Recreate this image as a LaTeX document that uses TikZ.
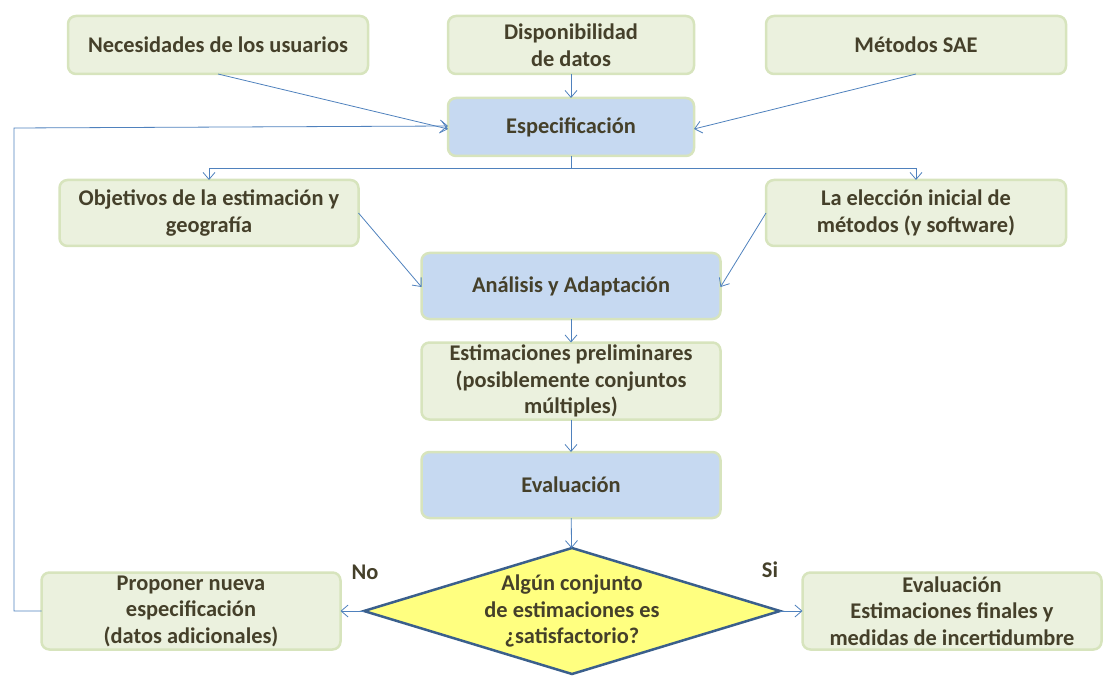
\documentclass[tikz,border=0pt]{standalone}
\usepackage{fontspec}
\setmainfont{Carlito}
\usetikzlibrary{arrows.meta,shapes.geometric}
\definecolor{txt}{HTML}{45402A}
\definecolor{gfill}{HTML}{EBF1DE}
\definecolor{gline}{HTML}{D7E4BD}
\definecolor{bfill}{HTML}{C6D9F1}
\definecolor{conn}{HTML}{4F81BD}
\definecolor{yfill}{HTML}{FFFF80}
\definecolor{dline}{HTML}{3A5F8C}
\tikzset{
  box/.style={draw=gline, line width=2.5pt, fill=gfill, rounded corners=8pt,
    text=txt, font=\fontsize{22.4}{26.5}\selectfont\bfseries, align=center,
    inner sep=0pt, outer sep=0pt},
  bbox/.style={box, fill=bfill},
  conn/.style={draw=conn, line width=0.8pt, -{Straight Barb[length=7pt,width=12pt,line width=0.8pt]}},
  lbl/.style={text=txt, font=\fontsize{22.4}{26.5}\selectfont\bfseries, align=center, inner sep=0pt}
}
\begin{document}
\begin{tikzpicture}[x=1pt,y=-1pt]
\useasboundingbox (0,0) rectangle (1114,679);
\node[box, minimum width=300, minimum height=58] (nec) at (218,45) {Necesidades de los usuarios};
\node[box, minimum width=246, minimum height=58] (dis) at (571,45) {Disponibilidad\\de datos};
\node[box, minimum width=300, minimum height=58] (met) at (916,45) {Métodos SAE};
\node[bbox, minimum width=246, minimum height=58] (esp) at (571,127) {Especificación};
\node[box, minimum width=299, minimum height=66] (obj) at (209,213) {Objetivos de la estimación y\\geografía};
\node[box, minimum width=300, minimum height=66] (ele) at (916,213) {La elección inicial de\\métodos (y software)};
\node[bbox, minimum width=299, minimum height=66] (ana) at (571,286) {Análisis y Adaptación};
\node[box, minimum width=299, minimum height=77] (pre) at (571,381) {Estimaciones preliminares\\(posiblemente conjuntos\\múltiples)};
\node[bbox, minimum width=299, minimum height=66] (eva) at (571,485) {Evaluación};
\node[draw=dline, line width=2.5pt, fill=yfill, diamond, minimum width=416, minimum height=126, inner sep=0pt, outer sep=0pt] (dia) at (572,611) {};
\node[lbl] (diat) at (572,611) {Algún conjunto\\de estimaciones es\\¿satisfactorio?};
\node[box, minimum width=299, minimum height=77] (pro) at (191,611) {Proponer nueva\\especificación\\(datos adicionales)};
\node[box, minimum width=299, minimum height=77] (fin) at (952,611) {Evaluación\\Estimaciones finales y\\medidas de incertidumbre};
\node[lbl] (no) at (365,572) {No};
\node[lbl] (si) at (770,570) {Si};
\coordinate (split) at (571,168);
\coordinate (loopA) at (14,611);
\coordinate (loopB) at (14,128);

\draw[conn] (nec.south) -- ([yshift=-2pt]esp.west);
\draw[conn] (dis) -- (esp);
\draw[conn] (met.south) -- ([yshift=-2pt]esp.east);
\draw[conn] (pro.west) -- (loopA) -- (loopB) -- ([yshift=1pt]esp.west);
\draw[conn] (esp.south) -- (split) -| (obj.north);
\draw[conn] (split) -| (ele.north);
\draw[conn] (obj.east) -- ([yshift=-1pt]ana.west);
\draw[conn] (ele.west) -- ([yshift=-1pt]ana.east);
\draw[conn] (ana) -- (pre);
\draw[conn] (pre) -- (eva);
\draw[conn] (eva) -- (dia);
\draw[conn] (dia.west) -- (pro.east);
\draw[conn] (dia.east) -- (fin.west);
\end{tikzpicture}
\end{document}
